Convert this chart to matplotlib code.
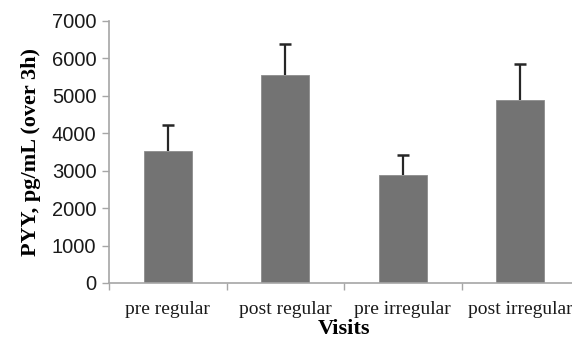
import matplotlib
matplotlib.use("Agg")
import matplotlib.pyplot as plt
import numpy as np

categories = ["pre regular", "post regular", "pre irregular", "post irregular"]
values = [3530, 5570, 2880, 4890]
errors = [690, 810, 550, 970]
yticks = [0, 1000, 2000, 3000, 4000, 5000, 6000, 7000]

W, H = 572, 343
fig = plt.figure(figsize=(W/100, H/100), dpi=100)
x0, x1 = 109, 579
y0, y1 = 283, 21
ax = fig.add_axes([x0/W, 1 - y0/H, (x1-x0)/W, (y0-y1)/H])

gray = "#a6a6a6"
x = np.arange(len(categories))
vals = np.array(values)
errs = np.array(errors)
ax.bar(x, vals, width=0.41, color="#737373", edgecolor="#8c8c8c", linewidth=0.6, zorder=2)
ax.vlines(x, vals, vals + errs, color="#262626", linewidth=1.6, zorder=3)
ax.plot(x, vals + errs, linestyle="none", marker="_", markersize=8, markeredgewidth=1.8,
        color="#262626", zorder=3)

ax.set_xlim(-0.5, 3.5)
ax.set_ylim(0, 7000)
ax.set_yticks(yticks)
ax.set_yticklabels([str(t) for t in yticks], family="Liberation Sans", fontsize=14.5, color="#1a1a1a")
ax.set_xticks(x)
ax.set_xticklabels(categories, family="Liberation Serif", fontsize=14, color="#1a1a1a")
ax.set_xticks(np.arange(-0.5, 4, 1), minor=True)
ax.tick_params(axis="x", which="major", length=0, pad=13)
ax.tick_params(axis="x", which="minor", length=5, color=gray, width=1)
ax.tick_params(axis="y", length=5, color=gray, width=1, pad=4)

for s in ["top", "right"]:
    ax.spines[s].set_visible(False)
for s in ["left", "bottom"]:
    ax.spines[s].set_color(gray)
    ax.spines[s].set_linewidth(1.2)

ax.set_ylabel("PYY, pg/mL (over 3h)", family="Liberation Serif", fontweight="bold", fontsize=16, labelpad=8)
ax.set_xlabel("Visits", family="Liberation Serif", fontweight="bold", fontsize=16, labelpad=1)

fig.savefig("out.png", dpi=100)
